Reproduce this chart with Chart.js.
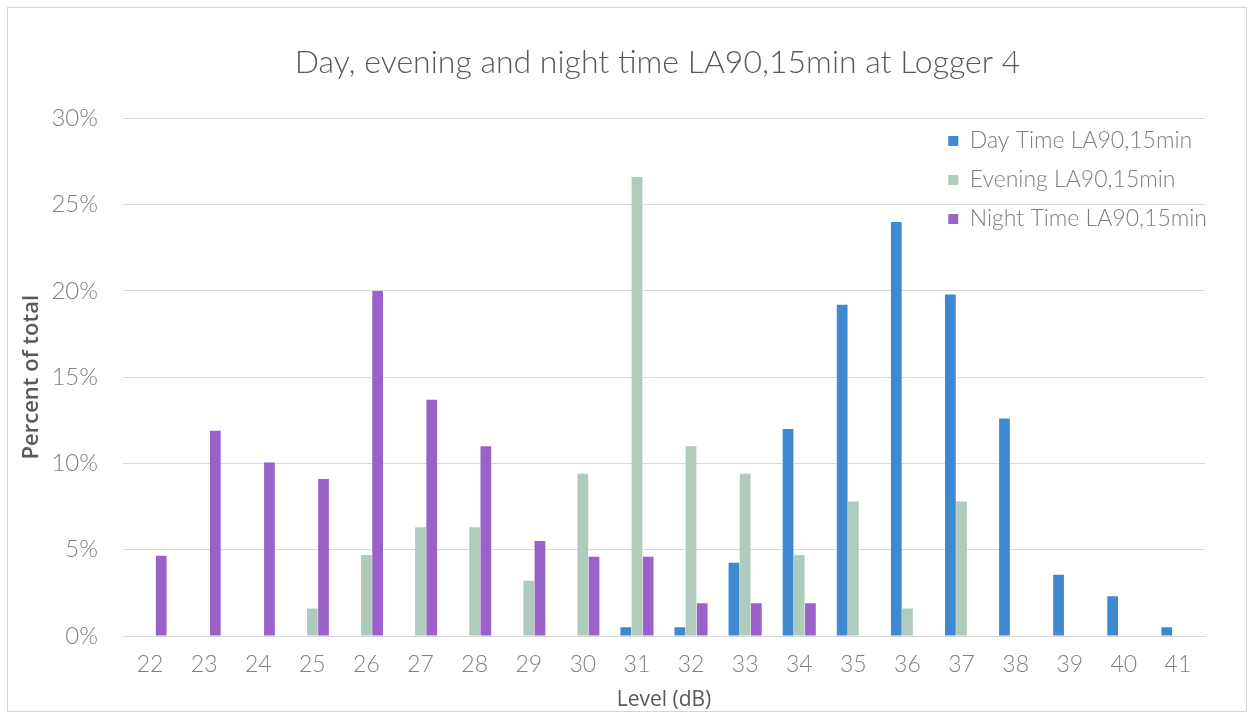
<!DOCTYPE html>
<html>
<head>
<meta charset="utf-8">
<script src="https://cdn.jsdelivr.net/npm/chart.js@4/dist/chart.umd.min.js"></script>
<style>
  html, body { margin: 0; padding: 0; background: #fff; }
  #wrap { position: relative; width: 1251px; height: 715px; }
  #frame { position: absolute; left: 7px; top: 7px; width: 1238px; height: 703px; border: 1px solid #d4d4d4; pointer-events: none; }
</style>
</head>
<body>
<div id="wrap">
  <canvas id="loggerChart" width="1251" height="715"></canvas>
  <div id="frame"></div>
</div>
<script>
// Níveis (dB) e percentuais de cada período
const niveis = ["22", "23", "24", "25", "26", "27", "28", "29", "30", "31",
                "32", "33", "34", "35", "36", "37", "38", "39", "40", "41"];
const diurno = [0, 0, 0, 0, 0, 0, 0, 0, 0, 0.5, 0.5, 4.25, 12.0, 19.2, 24.0, 19.8, 12.6, 3.55, 2.3, 0.5];
const vespertino = [0, 0, 0, 1.6, 4.7, 6.3, 6.3, 3.2, 9.4, 26.6, 11.0, 9.4, 4.7, 7.8, 1.6, 7.8, 0, 0, 0, 0];
const noturno = [4.65, 11.9, 10.05, 9.1, 20.0, 13.7, 11.0, 5.5, 4.6, 4.6, 1.9, 1.9, 1.9, 0, 0, 0, 0, 0, 0, 0];

const cinza = "#7f7f7f";

// legenda dentro da área do gráfico, no canto superior direito; título centrado na área
const ajusteLayout = {
    id: "ajusteLayout",
    afterLayout(chart) {
        const lg = chart.legend;
        const area = chart.chartArea;
        lg.left = area.right - lg.width + 12;
        lg.right = lg.left + lg.width;
        lg.top = area.top - 5;

        const tb = chart.titleBlock;
        tb.left += 50;
        tb.right += 50;
    },
};

new Chart(document.getElementById("loggerChart"), {
    type: "bar",
    data: {
        labels: niveis,
        datasets: [
            {
                label: "Day Time LA90,15min",
                data: diurno,
                backgroundColor: "#3f88d2",
            },
            {
                label: "Evening LA90,15min",
                data: vespertino,
                backgroundColor: "#aecbbb",
            },
            {
                label: "Night Time LA90,15min",
                data: noturno,
                backgroundColor: "#9a62c8",
            },
        ],
    },
    plugins: [ajusteLayout],
    options: {
        responsive: false,
        animation: false,
        datasets: { bar: { categoryPercentage: 0.62, barPercentage: 0.96 } },
        layout: { padding: { left: 10, right: 46, top: 0, bottom: 0 } },
        plugins: {
            title: {
                display: true,
                text: "Day, evening and night time LA90,15min at Logger 4",
                color: "#595959",
                font: { family: "Lato", size: 32, weight: "300", lineHeight: 1.2 },
                padding: { top: 43, bottom: 37 },
            },
            legend: {
                position: "chartArea",
                align: "start",
                labels: {
                    color: cinza,
                    boxWidth: 10,
                    boxHeight: 10,
                    padding: 16,
                    font: { family: "Lato", size: 23, weight: "300" },
                },
            },
            tooltip: { enabled: false },
        },
        scales: {
            x: {
                grid: { display: false, drawTicks: false },
                border: { color: "#d9d9d9" },
                ticks: { color: cinza, padding: 15, font: { family: "Lato", size: 23, weight: "300" } },
                title: {
                    display: true,
                    text: "Level (dB)",
                    color: "#595959",
                    font: { family: "Open Sans", size: 21 },
                    padding: { top: 0, bottom: 2 },
                },
                afterFit: (s) => { s.height = 79; },
            },
            y: {
                min: 0,
                max: 30,
                grid: { color: "#d9d9d9", drawTicks: false },
                border: { display: false },
                ticks: {
                    stepSize: 5,
                    color: cinza,
                    padding: 25,
                    font: { family: "Lato", size: 24, weight: "300" },
                    callback: (v) => v + "%",
                },
                title: {
                    display: true,
                    text: "Percent of total",
                    color: "#595959",
                    font: { family: "Open Sans", size: 22, weight: "600" },
                    padding: { top: 9, bottom: 0 },
                },
                afterFit: (s) => { s.width = 113; },
            },
        },
    },
});
</script>
</body>
</html>
